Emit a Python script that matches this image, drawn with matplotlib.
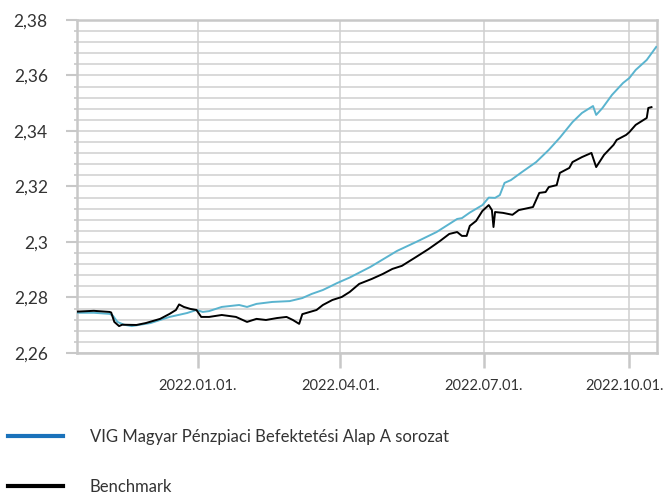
import datetime as dt
import matplotlib
matplotlib.use("Agg")
import matplotlib.pyplot as plt
import matplotlib.dates as mdates
import matplotlib.transforms as mtransforms
from matplotlib.ticker import MultipleLocator, FuncFormatter
from matplotlib.lines import Line2D

# VIG Magyar Penzpiaci Befektetesi Alap A sorozat
fund_dates = ["2021-10-16", "2021-10-27", "2021-11-06", "2021-11-08", "2021-11-11",
              "2021-11-15", "2021-11-20", "2021-12-02", "2021-12-14", "2021-12-25",
              "2021-12-31", "2022-01-04", "2022-01-08", "2022-01-16", "2022-01-27",
              "2022-02-01", "2022-02-07", "2022-02-17", "2022-02-28", "2022-03-08",
              "2022-03-14", "2022-03-21", "2022-03-25", "2022-03-30", "2022-04-07",
              "2022-04-20", "2022-05-07", "2022-05-19", "2022-06-01", "2022-06-14",
              "2022-06-17", "2022-06-22", "2022-06-30", "2022-07-04", "2022-07-08",
              "2022-07-11", "2022-07-14", "2022-07-18", "2022-07-25", "2022-08-03",
              "2022-08-11", "2022-08-18", "2022-08-26", "2022-09-01", "2022-09-08",
              "2022-09-10", "2022-09-14", "2022-09-20", "2022-09-27", "2022-10-01",
              "2022-10-05", "2022-10-12", "2022-10-18"]
fund_values = [2.2745, 2.2745, 2.2741, 2.2735, 2.2712,
               2.2702, 2.2697, 2.2708, 2.2730, 2.2744,
               2.2755, 2.2748, 2.2751, 2.2766, 2.2773,
               2.2766, 2.2777, 2.2784, 2.2787, 2.2798,
               2.2813, 2.2827, 2.2838, 2.2852, 2.2872,
               2.2910, 2.2968, 2.3000, 2.3036, 2.3083,
               2.3086, 2.3106, 2.3133, 2.3160, 2.3159,
               2.3169, 2.3213, 2.3223, 2.3252, 2.3288,
               2.3332, 2.3376, 2.3432, 2.3465, 2.3490,
               2.3458, 2.3483, 2.3530, 2.3573, 2.3591,
               2.3620, 2.3656, 2.3703]

# Benchmark
bench_dates = ["2021-10-16", "2021-10-27", "2021-11-06", "2021-11-07", "2021-11-09",
               "2021-11-12", "2021-11-14", "2021-11-23", "2021-11-29", "2021-12-08",
               "2021-12-14", "2021-12-18", "2021-12-20", "2021-12-23", "2021-12-27",
               "2021-12-31", "2022-01-03", "2022-01-08", "2022-01-16", "2022-01-25",
               "2022-02-01", "2022-02-07", "2022-02-13", "2022-02-20", "2022-02-26",
               "2022-03-02", "2022-03-06", "2022-03-08", "2022-03-17", "2022-03-21",
               "2022-03-27", "2022-04-02", "2022-04-07", "2022-04-13", "2022-04-21",
               "2022-04-28", "2022-05-04", "2022-05-10", "2022-05-19", "2022-05-27",
               "2022-06-03", "2022-06-09", "2022-06-14", "2022-06-17", "2022-06-20",
               "2022-06-22", "2022-06-26", "2022-06-30", "2022-07-04", "2022-07-06",
               "2022-07-07", "2022-07-08", "2022-07-13", "2022-07-19", "2022-07-23",
               "2022-08-01", "2022-08-05", "2022-08-09", "2022-08-11", "2022-08-16",
               "2022-08-18", "2022-08-24", "2022-08-26", "2022-09-01", "2022-09-07",
               "2022-09-10", "2022-09-15", "2022-09-21", "2022-09-23", "2022-09-29",
               "2022-10-01", "2022-10-05", "2022-10-12", "2022-10-13", "2022-10-15"]
bench_values = [2.2749, 2.2752, 2.2748, 2.2746, 2.2712,
                2.2697, 2.2702, 2.2701, 2.2708, 2.2723,
                2.2741, 2.2755, 2.2775, 2.2766, 2.2759,
                2.2755, 2.2730, 2.2730, 2.2737, 2.2730,
                2.2712, 2.2723, 2.2719, 2.2726, 2.2730,
                2.2719, 2.2705, 2.2740, 2.2755, 2.2773,
                2.2791, 2.2802, 2.2820, 2.2849, 2.2867,
                2.2885, 2.2903, 2.2914, 2.2946, 2.2975,
                2.3003, 2.3029, 2.3036, 2.3022, 2.3022,
                2.3058, 2.3076, 2.3112, 2.3133, 2.3115,
                2.3054, 2.3108, 2.3105, 2.3098, 2.3115,
                2.3126, 2.3177, 2.3180, 2.3198, 2.3205,
                2.3249, 2.3267, 2.3288, 2.3306, 2.3321,
                2.3270, 2.3314, 2.3350, 2.3368, 2.3386,
                2.3396, 2.3422, 2.3447, 2.3483, 2.3486]

tick_dates = ["2022-01-01", "2022-04-01", "2022-07-01", "2022-10-01"]
legend_labels = ["VIG Magyar Pénzpiaci Befektetési Alap A sorozat", "Benchmark"]

def to_dt(lst):
    return [dt.datetime.strptime(s, "%Y-%m-%d") for s in lst]

plt.rcParams['font.family'] = ['Lato', 'DejaVu Sans']
text_col = "#333333"
grid_col = "#d0d0d0"

fig = plt.figure(figsize=(6.64, 4.96), dpi=100)
ax = fig.add_axes([77/664, 1-353/496, (657-77)/664, (353-20)/496])

ax.plot(to_dt(fund_dates), fund_values, color="#5ab4cf", lw=1.4, zorder=3)
ax.plot(to_dt(bench_dates), bench_values, color="black", lw=1.4, zorder=4)

ax.set_xlim(dt.datetime(2021, 10, 16, 9), dt.datetime(2022, 10, 18, 12))
ax.set_ylim(2.26, 2.38)

ax.yaxis.set_major_locator(MultipleLocator(0.02))
ax.yaxis.set_minor_locator(MultipleLocator(0.004))
ax.yaxis.set_major_formatter(FuncFormatter(
    lambda v, p: ("%.2f" % v).rstrip("0").replace(".", ",")))
ax.set_xticks(to_dt(tick_dates))
ax.xaxis.set_major_formatter(mdates.DateFormatter("%Y.%m.%d."))

ax.grid(True, which="both", axis="y", color=grid_col, lw=1.1)
ax.grid(True, which="major", axis="x", color=grid_col, lw=1.1)
ax.set_axisbelow(True)

for s in ax.spines.values():
    s.set_color("#c8c8c8")
    s.set_linewidth(1.8)

ax.tick_params(axis="y", which="major", length=8, width=1.5, color="#c8c8c8",
               labelsize=12.5, labelcolor=text_col, pad=13)
ax.tick_params(axis="y", which="minor", length=2, width=1.2, color="#c8c8c8")
ax.tick_params(axis="x", which="major", length=11, width=1.8, color="#c8c8c8",
               labelsize=10.5, labelcolor=text_col, pad=8)

# nudge the last date label so it stays inside the figure
last_lbl = ax.get_xticklabels()[-1]
last_lbl.set_transform(last_lbl.get_transform() +
                       mtransforms.ScaledTranslation(-5/100, 0, fig.dpi_scale_trans))

handles = [Line2D([], [], color="#1a72bb", lw=3),
           Line2D([], [], color="black", lw=3)]
fig.legend(handles, legend_labels, loc="upper left", bbox_to_anchor=(8/664, 1-429/496),
           frameon=False, fontsize=12, handlelength=3.3, handletextpad=1.6,
           labelspacing=2.05, borderpad=0, borderaxespad=0, labelcolor=text_col)

plt.savefig("out.png", dpi=100)
